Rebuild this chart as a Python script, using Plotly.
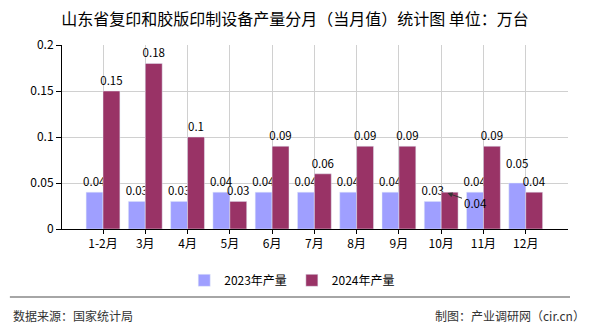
import plotly.graph_objects as go

categories = ["1-2月", "3月", "4月", "5月", "6月", "7月", "8月", "9月", "10月", "11月", "12月"]
s2023 = [0.04, 0.03, 0.03, 0.04, 0.04, 0.04, 0.04, 0.04, 0.03, 0.04, 0.05]
s2024 = [0.15, 0.18, 0.1, 0.03, 0.09, 0.06, 0.09, 0.09, 0.04, 0.09, 0.04]
yticks = [0, 0.05, 0.1, 0.15, 0.2]
ytick_text = ["0", "0.05", "0.1", "0.15", "0.2"]

FONT = "Noto Sans CJK SC"
xs = list(range(len(categories)))

def fmt(v):
    return ("%g" % v)

t2023 = [fmt(v) for v in s2023]
t2023[10] = ""  # nudged label drawn as annotation
t2024 = [fmt(v) for v in s2024]
t2024[8] = ""  # displaced label drawn as annotation

LBL = 11.5

fig = go.Figure()
fig.add_trace(go.Bar(x=xs, y=s2023, name="2023年产量", marker_color="#9f9fff",
                     text=t2023, textposition="outside",
                     constraintext="none",
                     textfont=dict(size=LBL, color="#000", family=FONT),
                     cliponaxis=False, offset=-0.4, width=0.4))
fig.add_trace(go.Bar(x=xs, y=s2024, name="2024年产量", marker_color="#993366",
                     text=t2024, textposition="outside",
                     constraintext="none",
                     textfont=dict(size=LBL, color="#000", family=FONT),
                     cliponaxis=False, offset=0.0, width=0.4))

fig.add_annotation(x=8.15, y=s2024[8] - 0.001, ax=8.8, ay=0.0285, axref="x", ayref="y",
                   text=fmt(s2024[8]), showarrow=True, arrowhead=2, arrowsize=1,
                   arrowwidth=1, arrowcolor="#333", standoff=0,
                   font=dict(size=LBL, color="#000", family=FONT),
                   xanchor="center", yanchor="middle")
fig.add_annotation(x=10 - 0.2, y=s2023[10], text=fmt(s2023[10]), showarrow=False,
                   yanchor="bottom", yshift=10,
                   font=dict(size=LBL, color="#000", family=FONT))

fig.update_layout(
    width=590, height=330,
    margin=dict(l=62, r=22, t=45, b=101),
    paper_bgcolor="white", plot_bgcolor="white",
    title=dict(text="山东省复印和胶版印制设备产量分月（当月值）统计图 单位：万台",
               x=295/590, xanchor="center", xref="container", y=0.94, yanchor="middle",
               font=dict(size=16, color="#000", family=FONT)),
    bargap=0.2,
    showlegend=True,
    legend=dict(orientation="h", x=0.455, xanchor="center", y=-0.2, yanchor="top",
                font=dict(size=12, color="#000", family=FONT),
                itemwidth=30, traceorder="normal"),
    font=dict(family=FONT, size=12, color="#000"),
)
fig.update_xaxes(range=[-0.97, 11], tickmode="array", tickvals=xs, ticktext=categories,
                 showgrid=True, gridcolor="#d0d0d0", gridwidth=1,
                 showline=True, linecolor="#000", linewidth=1,
                 ticks="outside", ticklen=4, tickcolor="#000",
                 tickfont=dict(size=12, color="#000", family=FONT), zeroline=False)
fig.update_yaxes(range=[0, 0.2], tickmode="array", tickvals=yticks, ticktext=ytick_text,
                 showgrid=True, gridcolor="#d0d0d0", gridwidth=1,
                 showline=True, linecolor="#000", linewidth=1,
                 ticks="outside", ticklen=5, tickcolor="#000",
                 tickfont=dict(size=12, color="#000", family=FONT), zeroline=False)

fig.add_shape(type="line", xref="paper", yref="paper", x0=-0.103, x1=1.004,
              y0=-0.37, y1=-0.37, line=dict(color="#888", width=1.5))
fig.add_annotation(xref="paper", yref="paper", x=-0.100, y=-0.47, xanchor="left", yanchor="middle",
                   text="数据来源：国家统计局", showarrow=False,
                   font=dict(size=12, color="#333", family=FONT))
fig.add_annotation(xref="paper", yref="paper", x=1.038, y=-0.47, xanchor="right", yanchor="middle",
                   text="制图：产业调研网（cir.cn）", showarrow=False,
                   font=dict(size=12, color="#333", family=FONT))

fig.write_html("out.html")
